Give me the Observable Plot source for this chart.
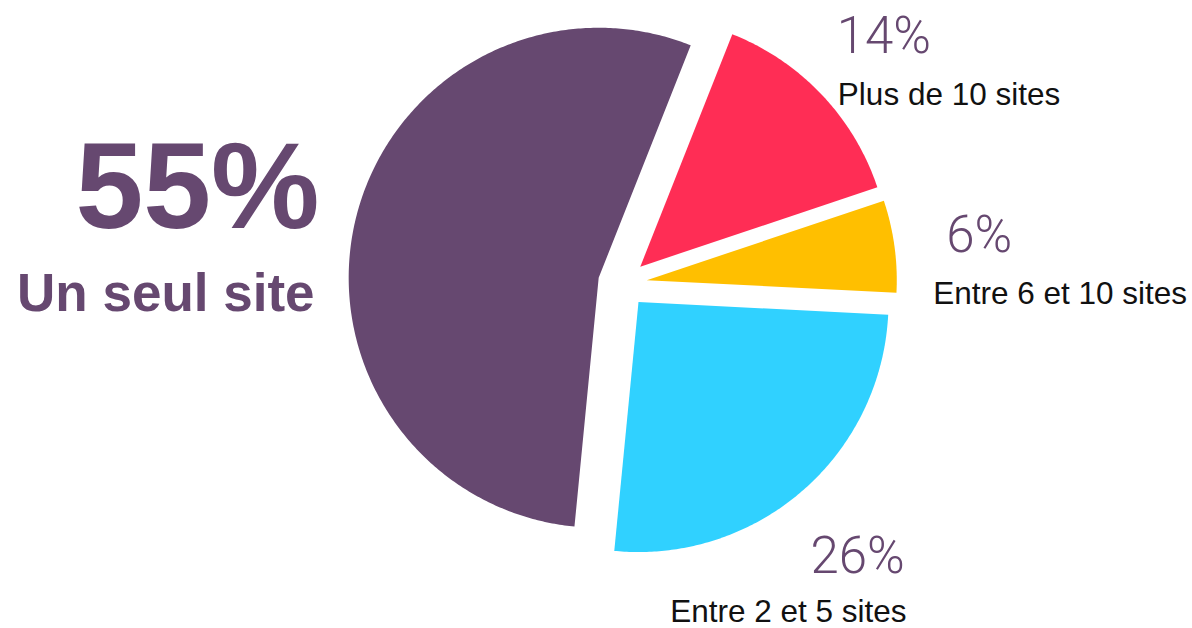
<!DOCTYPE html>
<html>
<head>
<meta charset="utf-8">
<script src="https://cdn.jsdelivr.net/npm/d3@7"></script>
<script src="https://cdn.jsdelivr.net/npm/@observablehq/plot@0.6"></script>
<style>
  html, body { margin: 0; padding: 0; background: #fff; overflow: hidden; }
  #chart svg { display: block; }
</style>
</head>
<body>
<div id="chart"></div>
<script>
// ---- data ----
const categories = ["Plus de 10 sites", "Entre 6 et 10 sites", "Entre 2 et 5 sites", "Un seul site"];
const values = [14, 6, 26, 55];
const percentLabels = ["14%", "6%", "26%", "55%"];

// ---- styling ----
const palette = ["#FF2D55", "#FFBF00", "#30D1FF", "#664870"];
const labelPurple = "#664870";
const W = 1192, H = 628;
const radiusPx = 250;            // pie radius in pixels
const centerPx = [622, 283];     // pie centre in pixels
const explode = 0.098;           // slice offset, in radii
const startDeg = 21.6;           // first slice starts here (clockwise from 12 o'clock)

// ---- pie geometry (unit radius, y up) ----
const start = startDeg * Math.PI / 180;
const arcs = d3.pie().sort(null).value(d => d.value)
  .startAngle(start).endAngle(start + 2 * Math.PI)(
    categories.map((c, i) => ({label: c, value: values[i], pct: percentLabels[i]}))
  );

const points = [];
for (const a of arcs) {
  const mid = (a.startAngle + a.endAngle) / 2;
  const ox = explode * Math.sin(mid), oy = explode * Math.cos(mid);
  const label = a.data.label;
  points.push({label, x: ox, y: oy});
  const n = Math.max(8, Math.ceil((a.endAngle - a.startAngle) / 0.01));
  for (let k = 0; k <= n; k++) {
    const t = a.startAngle + (a.endAngle - a.startAngle) * k / n;
    points.push({label, x: ox + Math.sin(t), y: oy + Math.cos(t)});
  }
  points.push({label, x: ox, y: oy});
}

const biggest = d3.greatest(arcs, a => a.value);
const anchors = arcs.map(a => {
  const mid = (a.startAngle + a.endAngle) / 2;
  return {
    label: a.data.label, pct: a.data.pct, mid,
    x: 1.44 * Math.sin(mid), y: 1.44 * Math.cos(mid),
    right: mid < Math.PI * 0.66
  };
});
const small = anchors.filter(d => d.label !== biggest.data.label);
const smallRight = small.filter(d => d.right);
const smallLow = small.filter(d => !d.right);
const big = anchors.filter(d => d.label === biggest.data.label);

const xDomain = [-centerPx[0] / radiusPx, (W - centerPx[0]) / radiusPx];
const yDomain = [-(H - centerPx[1]) / radiusPx, centerPx[1] / radiusPx];

const pctFont = {fontFamily: "Roboto, 'Helvetica Neue', sans-serif", fontWeight: 300, fontSize: 51, fill: labelPurple};
const catFont = {fontFamily: "'Liberation Sans', Arial, sans-serif", fontWeight: 400, fontSize: 31.5, fill: "#111"};

const chart = Plot.plot({
  width: W, height: H, margin: 0,
  style: {background: "#fff"},
  x: {domain: xDomain, axis: null},
  y: {domain: yDomain, axis: null},
  color: {domain: categories, range: palette},
  marks: [
    Plot.line(points, {x: "x", y: "y", z: "label", fill: "label", stroke: "none", curve: "linear"}),
    // percentage labels for small slices
    Plot.text(small, {x: "x", y: "y", text: "pct", textAnchor: "middle", lineAnchor: "middle", dy: 1, ...pctFont}),
    Plot.text(smallRight, {x: "x", y: "y", text: "label", textAnchor: "start", lineAnchor: "middle", dx: -46, dy: 59, ...catFont}),
    Plot.text(smallLow, {x: "x", y: "y", text: "label", textAnchor: "end", lineAnchor: "middle", dx: 49, dy: 56, ...catFont}),
    // headline for the largest slice
    Plot.text(big, {x: "x", y: "y", text: "pct", textAnchor: "end", lineAnchor: "middle", dx: 47, dy: -10,
      fontFamily: "'Liberation Sans', Arial, sans-serif", fontWeight: 700, fontSize: 122, fill: labelPurple}),
    Plot.text(big, {x: "x", y: "y", text: "label", textAnchor: "end", lineAnchor: "middle", dx: 42, dy: 95,
      fontFamily: "'Liberation Sans', Arial, sans-serif", fontWeight: 700, fontSize: 53, fill: labelPurple})
  ]
});
document.getElementById("chart").append(chart);
</script>
</body>
</html>
